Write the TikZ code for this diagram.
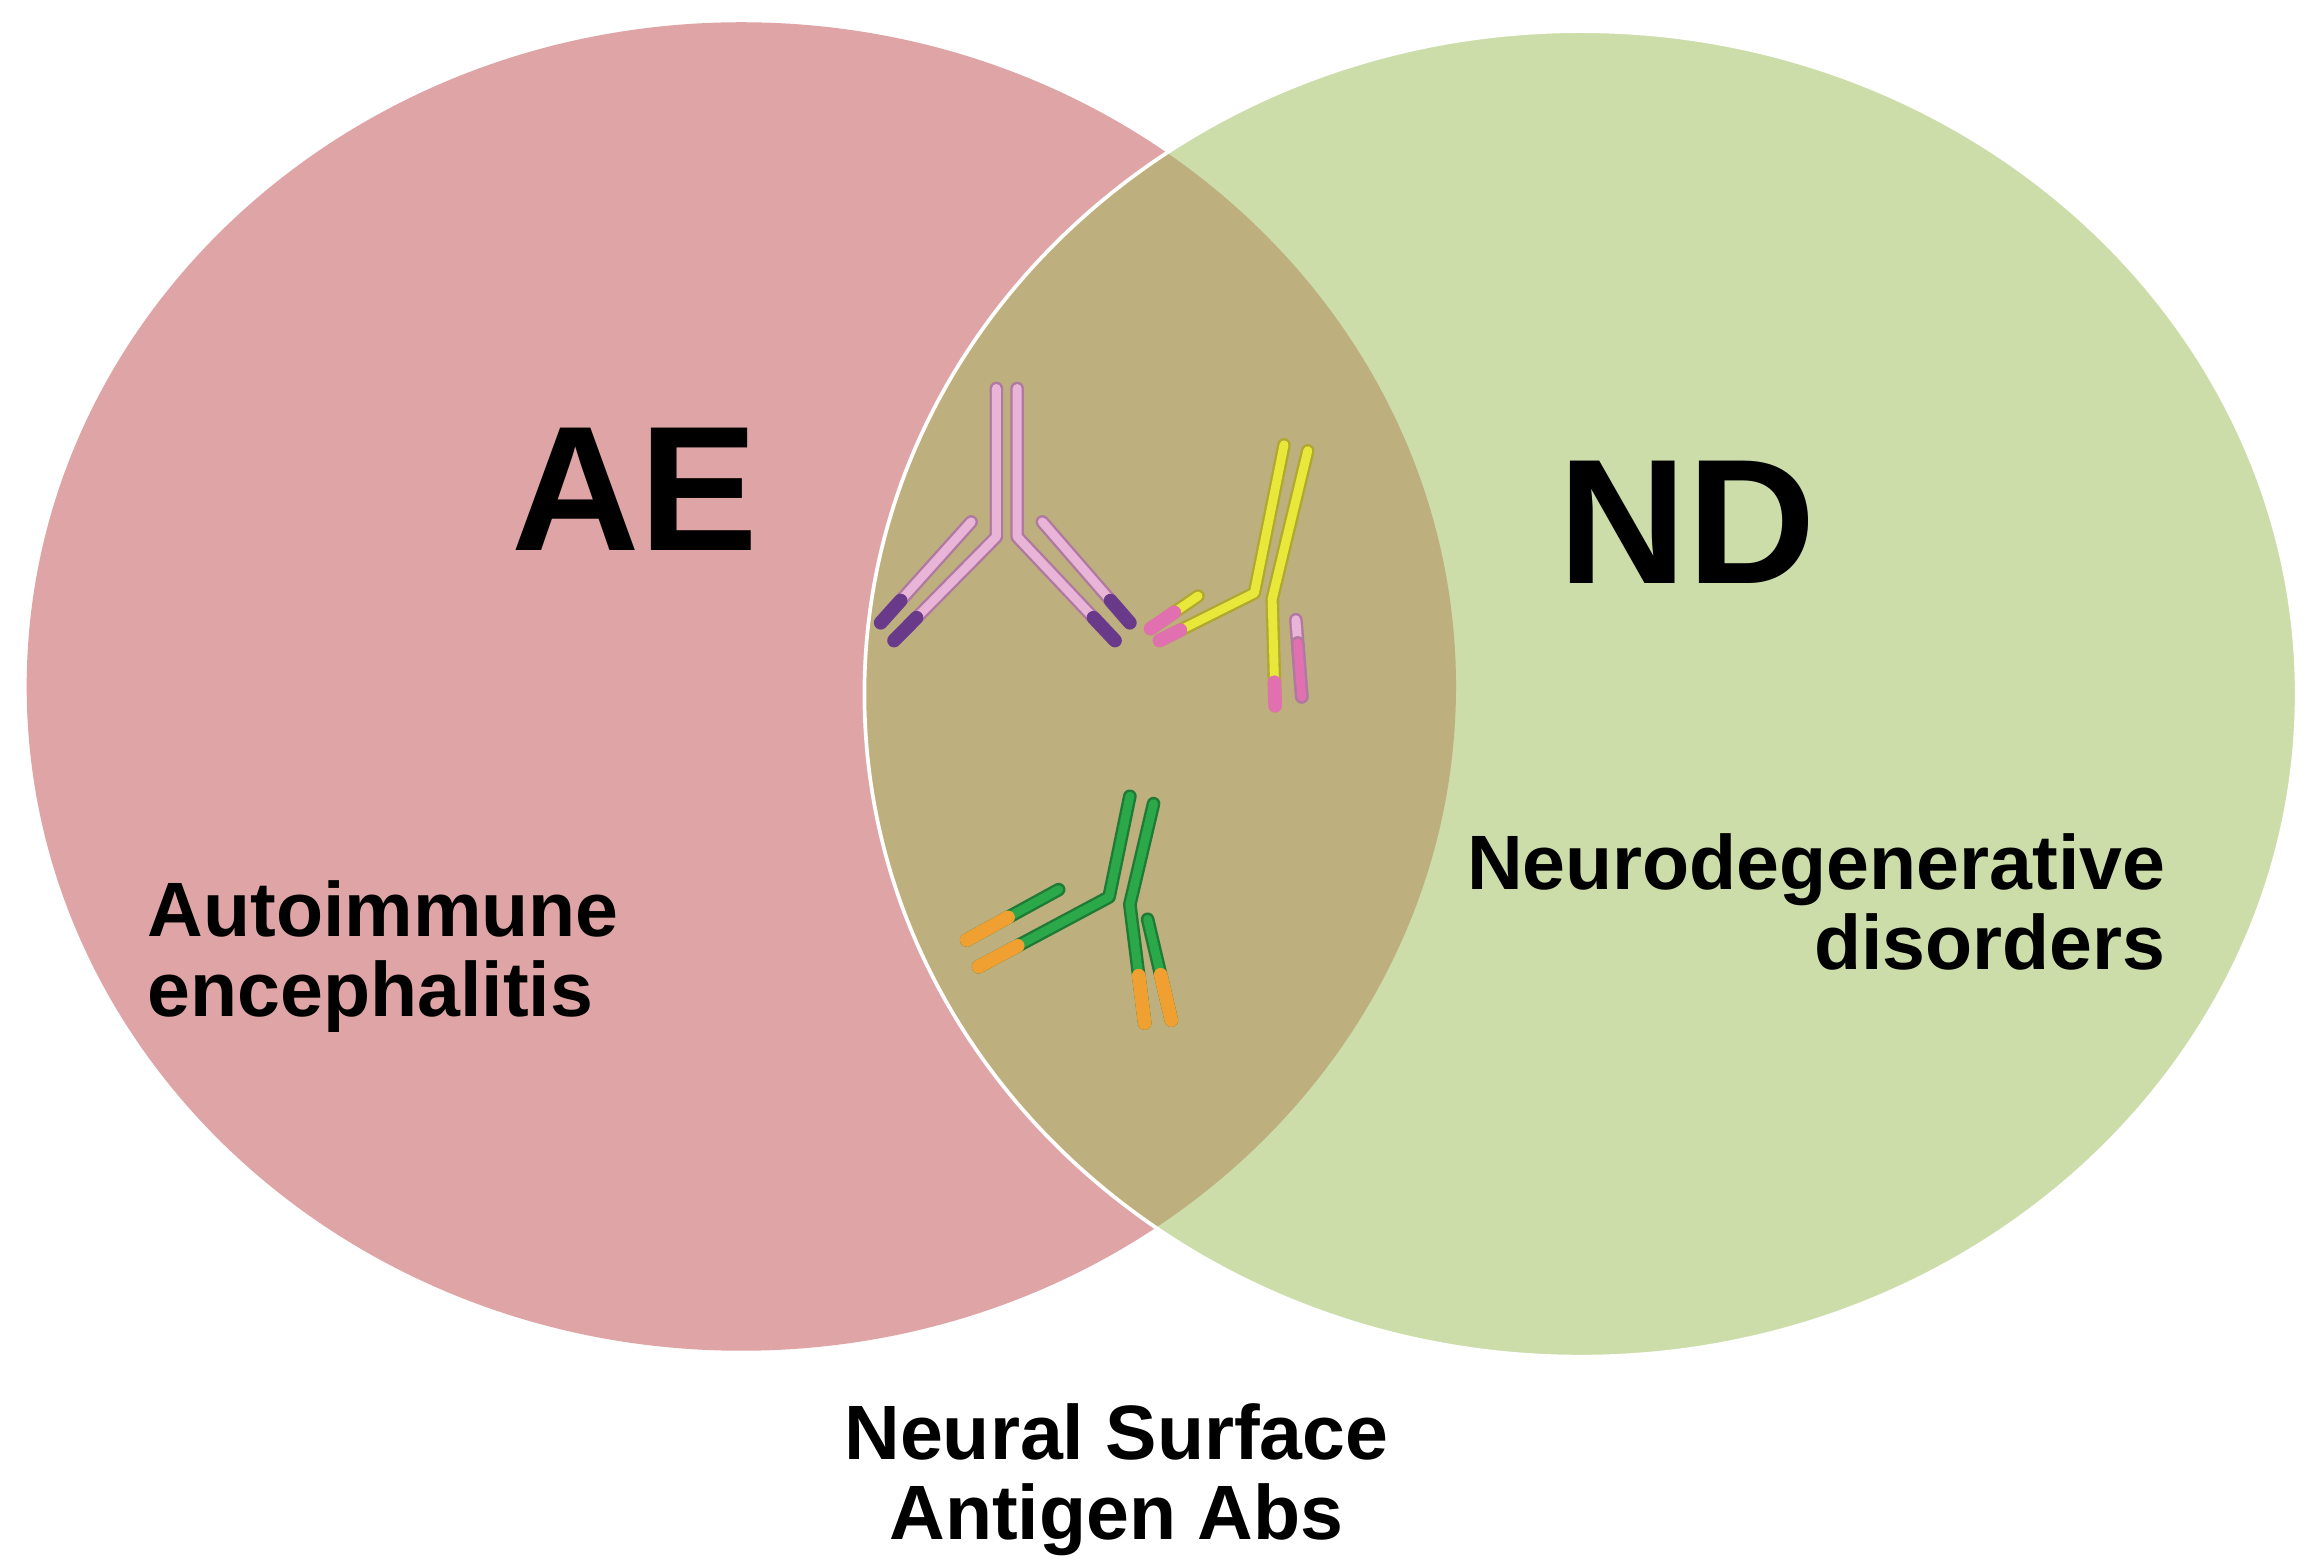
\documentclass[tikz,border=0pt]{standalone}
\usepackage{fontspec}
\setmainfont{Liberation Sans}
\usetikzlibrary{calc}
\definecolor{lpink}{HTML}{DFA5A6}
\definecolor{lgreen}{HTML}{CCDDAA}
\definecolor{olap}{HTML}{BDB07E}
\definecolor{abpink}{HTML}{E8B4D8}
\definecolor{abpinko}{HTML}{B07AA0}
\definecolor{abpur}{HTML}{6A3A8A}
\definecolor{abyel}{HTML}{E8E83A}
\definecolor{abyelo}{HTML}{B0A830}
\definecolor{abmag}{HTML}{E070B0}
\definecolor{abgr}{HTML}{2AA84A}
\definecolor{abgro}{HTML}{1E7A34}
\definecolor{abor}{HTML}{F0A030}
\tikzset{
  ab/.style 2 args={draw=#1,double=#2,line width=1.6pt,double distance=6pt,line cap=round,line join=round},
  lbl/.style={font=\fontsize{52}{60}\selectfont\bfseries},
  big/.style={font=\fontsize{120}{130}\selectfont\bfseries}
}
\newcommand\tipseg[4]{\draw[ab={#3}{#4}] ($(#1)!0.78!(#2)$) -- (#2);}
\begin{document}
\begin{tikzpicture}[x=1pt,y=-1pt]
\useasboundingbox (0,0) rectangle (1560,1056);
\fill[white] (0,0) rectangle (1560,1056);
\fill[lpink] (500,463) ellipse [x radius=482,y radius=448];
\fill[lgreen] (1066,468) ellipse [x radius=483,y radius=447];
\begin{scope}
\clip (500,463) ellipse [x radius=482,y radius=448];
\fill[olap] (1066,468) ellipse [x radius=483,y radius=447];
\end{scope}
\draw[white,line width=2.5pt] (1066,468) ellipse [x radius=483,y radius=447];
% antibody 1 (pink)
\coordinate (a1) at (672,262); \coordinate (a2) at (672,362); \coordinate (a3) at (603,432);
\coordinate (b1) at (686,262); \coordinate (b2) at (686,362); \coordinate (b3) at (752,432);
\coordinate (c1) at (655,352); \coordinate (c2) at (594,420);
\coordinate (d1) at (703,352); \coordinate (d2) at (762,420);
\draw[ab={abpinko}{abpink}] (a1)--(a2)--(a3);
\draw[ab={abpinko}{abpink}] (b1)--(b2)--(b3);
\draw[ab={abpinko}{abpink}] (c1)--(c2);
\draw[ab={abpinko}{abpink}] (d1)--(d2);
\tipseg{a2}{a3}{abpur}{abpur}\tipseg{b2}{b3}{abpur}{abpur}
\tipseg{c1}{c2}{abpur}{abpur}\tipseg{d1}{d2}{abpur}{abpur}
% antibody 2 (yellow)
\coordinate (e1) at (866,300); \coordinate (e2) at (846,400); \coordinate (e3) at (782,432);
\coordinate (f1) at (882,304); \coordinate (f2) at (858,404); \coordinate (f3) at (860,476);
\coordinate (g1) at (808,402); \coordinate (g2) at (776,424);
\coordinate (h1) at (874,418); \coordinate (h2) at (878,470);
\draw[ab={abyelo}{abyel}] (e1)--(e2)--(e3);
\draw[ab={abyelo}{abyel}] (f1)--(f2)--(f3);
\draw[ab={abyelo}{abyel}] (g1)--(g2);
\draw[ab={abpinko}{abpink}] (h1)--(h2);
\tipseg{e2}{e3}{abmag}{abmag}\tipseg{f2}{f3}{abmag}{abmag}
\draw[ab={abmag}{abmag}] ($(g1)!0.5!(g2)$)--(g2);
\draw[ab={abpinko}{abmag}] ($(h1)!0.3!(h2)$)--(h2);
% antibody 3 (green)
\coordinate (i1) at (762,537); \coordinate (i2) at (748,605); \coordinate (i3) at (660,652);
\coordinate (j1) at (778,542); \coordinate (j2) at (762,610); \coordinate (j3) at (772,690);
\coordinate (k1) at (714,600); \coordinate (k2) at (652,634);
\coordinate (l1) at (774,620); \coordinate (l2) at (790,688);
\draw[ab={abgro}{abgr}] (i1)--(i2)--(i3);
\draw[ab={abgro}{abgr}] (j1)--(j2)--(j3);
\draw[ab={abgro}{abgr}] (k1)--(k2);
\draw[ab={abgro}{abgr}] (l1)--(l2);
\draw[ab={abor}{abor}] ($(i2)!0.7!(i3)$)--(i3);
\draw[ab={abor}{abor}] ($(j2)!0.6!(j3)$)--(j3);
\draw[ab={abor}{abor}] ($(k1)!0.55!(k2)$)--(k2);
\draw[ab={abor}{abor}] ($(l1)!0.55!(l2)$)--(l2);
% texts
\node[big] (ae) at (428,330) {AE};
\node[big] (nd) at (1138,352) {ND};
\node[lbl,align=left,anchor=west] (aut) at (96,645) {Autoimmune\\[-6pt]encephalitis};
\node[lbl,align=right,anchor=east] (neu) at (1464,608) {Neurodegenerative\\[-6pt]disorders};
\node[lbl,align=center] (nsa) at (753,998) {Neural Surface\\[-6pt]Antigen Abs};
\end{tikzpicture}
\end{document}
